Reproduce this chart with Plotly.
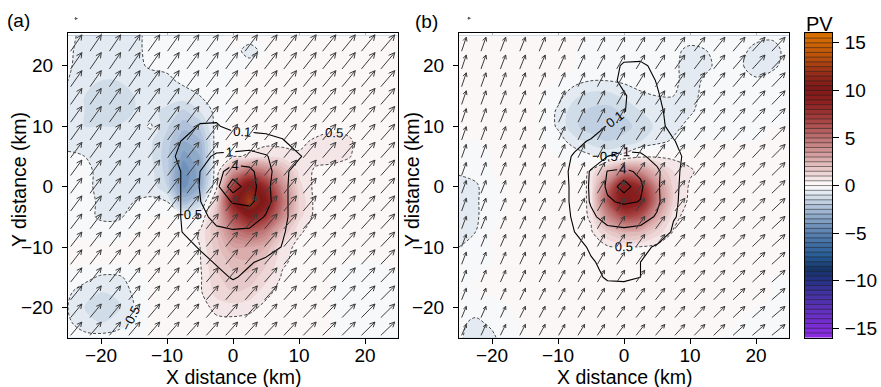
import numpy as np
import plotly.graph_objects as go
import plotly.figure_factory as ff

# ---------------- data ----------------
# PV grid (2.5 km spacing), rows listed from y = 25 (top) down to y = -25
PV_X = [-25.0, -22.5, -20.0, -17.5, -15.0, -12.5, -10.0, -7.5, -5.0, -2.5, 0.0,
        2.5, 5.0, 7.5, 10.0, 12.5, 15.0, 17.5, 20.0, 22.5, 25.0]
PV_Y_TOP_DOWN = [25.0, 22.5, 20.0, 17.5, 15.0, 12.5, 10.0, 7.5, 5.0, 2.5, 0.0,
                 -2.5, -5.0, -7.5, -10.0, -12.5, -15.0, -17.5, -20.0, -22.5, -25.0]

PV_A = [
    [-0.4, -0.6, -0.7, -0.7, -0.6, -0.4, -0.4, -0.3, -0.2, -0.1, 0.1, 0.2, 0.1, 0.1, 0.2, 0.2, 0.2, 0.2, 0.2, 0.2, 0.2],
    [-0.4, -0.7, -0.8, -0.8, -0.6, -0.4, -0.4, -0.3, -0.2, -0.1, 0.0, -1.0, 0.0, 0.1, 0.2, 0.2, 0.2, 0.2, 0.2, 0.2, 0.2],
    [-0.4, -0.8, -0.9, -0.9, -0.7, -0.4, -0.4, -0.3, -0.2, -0.1, 0.0, 0.0, 0.1, 0.1, 0.2, 0.2, 0.2, 0.2, 0.2, 0.2, 0.2],
    [-0.5, -0.9, -1.0, -1.0, -0.9, -0.8, -0.6, -0.4, -0.3, -0.1, 0.0, 0.1, 0.1, 0.1, 0.2, 0.2, 0.2, 0.2, 0.2, 0.2, 0.2],
    [-0.6, -1.0, -1.1, -1.1, -1.0, -0.9, -0.8, -0.7, -0.5, -0.2, 0.0, 0.1, 0.1, 0.1, 0.2, 0.2, 0.2, 0.2, 0.2, 0.2, 0.2],
    [-0.7, -1.0, -1.1, -1.1, -1.0, -0.9, -1.1, -1.6, -1.0, -0.3, 0.0, 0.1, 0.1, 0.1, 0.2, 0.2, 0.2, 0.2, 0.2, 0.2, 0.2],
    [-0.7, -1.0, -1.0, -1.0, -0.9, -0.4, -1.4, -2.3, -1.8, -0.2, 0.1, 0.1, 0.1, 0.1, 0.2, 0.2, 0.3, 0.3, 0.2, 0.2, 0.2],
    [-0.7, -0.8, -0.8, -0.8, -0.8, -0.9, -1.7, -3.0, -2.6, -0.1, 0.1, 0.2, 0.3, 0.3, 0.35, 0.6, 0.8, 0.6, 0.2, 0.2, 0.2],
    [-0.4, -0.5, -0.7, -0.8, -0.8, -0.9, -1.8, -3.8, -3.0, 0.0, 0.4, 0.6, 0.9, 0.8, 0.6, 0.7, 0.7, 0.55, 0.2, 0.2, 0.2],
    [-0.2, -0.3, -0.7, -0.8, -0.7, -0.8, -1.7, -4.5, -3.2, 0.0, 3.5, 5.5, 4.5, 2.5, 0.9, 0.4, 0.3, 0.2, 0.2, 0.2, 0.2],
    [-0.2, -0.3, -0.7, -0.8, -0.6, -0.7, -1.5, -4.2, -3.0, 0.3, 7.0, 10.5, 8.0, 4.0, 1.2, 0.3, 0.2, 0.2, 0.2, 0.2, 0.2],
    [-0.2, -0.3, -0.6, -0.7, -0.5, -0.4, -0.5, -2.5, -1.5, 1.5, 9.0, 12.5, 9.5, 5.0, 1.5, 0.3, 0.2, 0.2, 0.2, 0.2, 0.2],
    [-0.2, -0.3, -0.6, -0.6, -0.3, 0.0, 0.0, -0.3, -0.1, 2.0, 6.5, 9.0, 7.5, 4.0, 1.2, 0.3, 0.2, 0.2, 0.2, 0.2, 0.2],
    [-0.1, -0.1, -0.2, -0.2, 0.0, 0.1, 0.1, 0.1, 0.6, 2.0, 4.5, 5.5, 4.5, 2.0, 0.6, 0.2, 0.2, 0.2, 0.2, 0.2, 0.2],
    [0.1, 0.1, 0.1, 0.1, 0.1, 0.1, 0.1, 0.1, 0.5, 1.8, 3.0, 3.0, 2.5, 0.8, 0.3, 0.2, 0.1, 0.1, 0.1, 0.1, 0.1],
    [0.1, 0.1, 0.1, 0.1, 0.1, 0.1, 0.1, 0.1, 0.45, 1.6, 2.2, 2.4, 1.6, 0.6, 0.3, 0.1, 0.1, 0.0, 0.0, 0.0, 0.1],
    [-0.2, -0.3, -0.6, -0.6, -0.3, 0.1, 0.1, 0.1, 0.4, 1.4, 1.8, 1.8, 1.2, 0.4, 0.2, 0.1, 0.0, 0.0, 0.0, 0.0, 0.0],
    [-0.4, -0.8, -1.0, -0.9, -0.4, 0.1, 0.1, 0.1, 0.4, 1.2, 1.5, 1.3, 0.7, 0.2, 0.1, 0.1, 0.0, 0.0, 0.0, 0.0, 0.0],
    [-0.5, -1.0, -1.2, -1.1, -0.5, 0.1, 0.1, 0.1, 0.2, 0.7, 0.8, 0.7, 0.3, 0.1, 0.1, 0.1, 0.0, 0.0, 0.0, 0.0, 0.0],
    [-0.4, -0.8, -1.0, -0.8, -0.4, 0.1, 0.1, 0.1, 0.1, 0.3, 0.3, 0.2, 0.1, 0.1, 0.1, 0.1, 0.0, 0.0, 0.0, 0.0, 0.0],
    [-0.2, -0.3, -0.3, -0.2, -0.2, 0.1, 0.1, 0.1, 0.1, 0.1, 0.1, 0.1, 0.1, 0.1, 0.1, 0.1, 0.0, 0.0, 0.0, 0.0, 0.0],
]

PV_B = [
    [0.1, 0.1, 0.1, 0.1, 0.1, 0.1, 0.1, 0.1, 0.0, 0.0, 0.0, 0.0, -0.1, -0.2, -0.3, -0.3, -0.2, -0.2, -0.3, -0.4, -0.3],
    [0.1, 0.1, 0.1, 0.1, 0.1, 0.1, 0.1, 0.0, 0.0, -0.1, 0.0, 0.0, -0.1, -0.4, -0.6, -0.5, -0.3, -0.3, -0.7, -0.7, -0.3],
    [0.1, 0.1, 0.1, 0.1, 0.1, 0.1, 0.1, 0.0, -0.1, -0.2, -0.1, -0.1, -0.2, -0.4, -0.7, -0.6, -0.3, -0.4, -0.8, -0.6, -0.3],
    [0.1, 0.1, 0.1, 0.1, 0.1, 0.1, 0.0, -0.3, -0.5, -0.5, -0.4, -0.3, -0.3, -0.4, -0.7, -0.4, -0.2, -0.3, -0.4, -0.3, -0.2],
    [0.1, 0.1, 0.1, 0.1, 0.1, 0.0, -0.3, -0.9, -1.2, -1.2, -0.9, -0.6, -0.5, -0.5, -0.7, -0.3, -0.2, -0.2, -0.2, -0.1, -0.1],
    [0.1, 0.1, 0.1, 0.1, 0.1, 0.0, -0.6, -1.3, -1.6, -1.7, -1.4, -1.0, -0.7, -0.6, -0.6, -0.2, -0.1, -0.1, -0.1, 0.0, 0.0],
    [0.1, 0.1, 0.1, 0.1, 0.1, 0.0, -0.6, -1.4, -1.8, -1.9, -1.7, -1.3, -0.9, -0.7, -0.3, -0.1, 0.0, 0.0, 0.0, 0.0, 0.0],
    [0.0, 0.0, 0.1, 0.1, 0.1, 0.0, -0.2, -0.8, -1.2, -1.5, -1.3, -1.0, -0.7, -0.4, -0.2, 0.0, 0.0, 0.0, 0.0, 0.1, 0.1],
    [-0.2, -0.1, 0.0, 0.1, 0.1, 0.1, 0.0, -0.1, -0.4, -0.6, -0.3, 0.3, 0.4, 0.35, 0.25, 0.1, 0.1, 0.1, 0.1, 0.1, 0.1],
    [-0.4, -0.3, 0.0, 0.1, 0.1, 0.1, 0.1, 0.1, 0.6, 2.5, 4.5, 4.0, 2.2, 1.0, 0.6, 0.2, 0.1, 0.1, 0.1, 0.1, 0.1],
    [-0.8, -0.6, -0.1, 0.1, 0.1, 0.1, 0.1, 0.1, 0.65, 5.0, 9.5, 8.0, 4.0, 1.3, 0.4, 0.2, 0.1, 0.1, 0.1, 0.1, 0.1],
    [-0.9, -0.6, -0.1, 0.1, 0.1, 0.1, 0.1, 0.1, 0.65, 6.0, 10.0, 9.0, 4.5, 1.3, 0.3, 0.1, 0.1, 0.1, 0.1, 0.1, 0.1],
    [-0.9, -0.6, -0.1, 0.1, 0.1, 0.1, 0.1, 0.1, 0.6, 4.0, 6.5, 6.0, 3.0, 0.7, 0.2, 0.1, 0.1, 0.1, 0.1, 0.1, 0.1],
    [-0.8, -0.5, 0.0, 0.1, 0.1, 0.1, 0.1, 0.1, 0.4, 1.6, 2.6, 2.4, 1.3, 0.45, 0.1, 0.1, 0.1, 0.1, 0.1, 0.1, 0.1],
    [-0.5, -0.2, 0.0, 0.1, 0.1, 0.1, 0.1, 0.1, 0.2, 0.4, 0.45, 0.45, 0.3, 0.2, 0.1, 0.1, 0.1, 0.1, 0.1, 0.1, 0.1],
    [-0.3, -0.1, 0.0, 0.1, 0.1, 0.1, 0.1, 0.1, 0.1, 0.2, 0.2, 0.2, 0.2, 0.1, 0.1, 0.1, 0.1, 0.1, 0.1, 0.1, 0.1],
    [0.0, 0.0, 0.1, 0.1, 0.1, 0.1, 0.1, 0.1, 0.1, 0.1, 0.1, 0.1, 0.1, 0.1, 0.1, 0.1, 0.1, 0.1, 0.1, 0.0, 0.0],
    [0.0, 0.0, 0.1, 0.1, 0.1, 0.1, 0.1, 0.1, 0.1, 0.1, 0.1, 0.1, 0.1, 0.1, 0.1, 0.1, 0.1, 0.1, 0.1, 0.0, 0.0],
    [-0.2, -0.3, -0.2, 0.0, 0.1, 0.1, 0.1, 0.1, 0.1, 0.1, 0.1, 0.1, 0.1, 0.1, 0.1, 0.1, 0.1, 0.1, 0.0, 0.0, 0.0],
    [-0.4, -0.6, -0.4, -0.1, 0.1, 0.1, 0.1, 0.1, 0.1, 0.1, 0.1, 0.1, 0.1, 0.1, 0.1, 0.1, 0.1, 0.0, 0.0, 0.0, 0.0],
    [-0.4, -0.8, -0.6, -0.2, 0.0, 0.1, 0.1, 0.1, 0.1, 0.1, 0.1, 0.1, 0.1, 0.1, 0.1, 0.1, 0.0, 0.0, 0.0, 0.0, 0.0],
]

# Second field (solid contours), sub-grid, rows from y = 22.5 down to y = -20
W_X = [-12.5, -10.0, -7.5, -5.0, -2.5, 0.0, 2.5, 5.0, 7.5, 10.0, 12.5]
W_Y_TOP_DOWN = [22.5, 20.0, 17.5, 15.0, 12.5, 10.0, 7.5, 5.0, 2.5, 0.0,
                -2.5, -5.0, -7.5, -10.0, -12.5, -15.0, -17.5, -20.0]

W_A = [
    [0, 0, 0, 0, 0, 0, 0, 0, 0, 0, 0],
    [0, 0, 0, 0, 0, 0, 0, 0, 0, 0, 0],
    [0, 0, 0, 0, 0, 0, 0, 0, 0, 0, 0],
    [0, 0, 0, 0, 0, 0, 0, 0, 0, 0, 0],
    [0, 0, 0, 0, 0, 0, 0, 0, 0, 0, 0],
    [0, 0, 0, 0.12, 0.13, 0.0, 0, 0, 0, 0, 0],
    [0, 0, 0.12, 0.2, 0.3, 0.3, 0.25, 0.2, 0.12, 0.0, 0],
    [0, 0.05, 0.15, 0.6, 1.2, 1.3, 1.5, 1.1, 0.3, 0.12, 0],
    [0, 0, 0.12, 1.0, 2.5, 6.0, 5.0, 1.5, 0.15, 0.02, 0],
    [0, 0, 0.12, 1.05, 2.1, 14.0, 6.0, 1.3, 0.15, 0, 0],
    [0, 0, 0.12, 0.95, 2.0, 4.3, 5.0, 1.4, 0.15, 0, 0],
    [0, 0, 0.12, 0.7, 1.3, 1.5, 1.6, 0.9, 0.15, 0, 0],
    [0, 0, 0.11, 0.4, 0.8, 0.9, 0.8, 0.4, 0.12, 0, 0],
    [0, 0, 0.02, 0.12, 0.3, 0.3, 0.3, 0.2, 0.09, 0, 0],
    [0, 0, 0, 0.03, 0.12, 0.2, 0.12, 0.05, 0, 0, 0],
    [0, 0, 0, 0, 0.03, 0.12, 0.05, 0, 0, 0, 0],
    [0, 0, 0, 0, 0, 0, 0, 0, 0, 0, 0],
    [0, 0, 0, 0, 0, 0, 0, 0, 0, 0, 0],
]

W_B = [
    [0, 0, 0, 0, 0, 0, 0, 0, 0, 0, 0],
    [0, 0, 0, 0, 0.0, 0.13, 0.14, 0.05, 0, 0, 0],
    [0, 0, 0, 0, 0.03, 0.15, 0.2, 0.09, 0, 0, 0],
    [0, 0, 0, 0, 0.0, 0.08, 0.2, 0.12, 0, 0, 0],
    [0, 0, 0, 0, 0.0, 0.09, 0.2, 0.15, 0.02, 0, 0],
    [0, 0, 0, 0.0, 0.11, 0.2, 0.25, 0.15, 0.05, 0, 0],
    [0, 0, 0.05, 0.12, 0.3, 0.35, 0.35, 0.25, 0.11, 0.02, 0],
    [0, 0.02, 0.12, 0.4, 1.0, 1.3, 1.2, 0.6, 0.15, 0.05, 0],
    [0, 0.02, 0.15, 1.1, 4.1, 4.6, 3.5, 1.2, 0.15, 0.02, 0],
    [0, 0, 0.15, 1.15, 4.5, 14.0, 4.5, 1.15, 0.15, 0, 0],
    [0, 0, 0.15, 1.1, 3.6, 4.5, 3.9, 1.2, 0.14, 0, 0],
    [0, 0, 0.13, 0.8, 1.4, 1.5, 1.4, 0.9, 0.12, 0, 0],
    [0, 0, 0.1, 0.35, 0.7, 0.8, 0.7, 0.35, 0.05, 0, 0],
    [0, 0, 0.02, 0.13, 0.3, 0.3, 0.2, 0.05, 0, 0, 0],
    [0, 0, 0, 0.08, 0.15, 0.2, 0.1, 0.02, 0, 0, 0],
    [0, 0, 0, 0.02, 0.13, 0.14, 0.1, 0, 0, 0, 0],
    [0, 0, 0, 0, 0, 0, 0, 0, 0, 0, 0],
    [0, 0, 0, 0, 0, 0, 0, 0, 0, 0, 0],
]

W_LEVELS = [0.1, 1, 4]
W_INNER_LEVEL = 10
PV_DASH_LEVELS = (-0.5, 0.5)

# Wind (m/s): u varies across columns (west->east), v across rows (south->north)
U_A_BY_COL = [6.8, 6.8, 6.8, 6.8, 7.0, 7.0, 7.2, 7.2, 7.2, 7.4, 7.6, 7.6, 7.8, 8.0, 8.0, 8.2, 8.4]
V_A_BY_ROW = [8.8, 9.0, 9.2, 9.4, 9.6, 9.6, 9.8, 10.0, 10.0, 10.2, 10.2, 10.4, 10.4, 10.6, 10.6, 10.8, 10.8]
U_B_BY_COL = [2.8, 3.0, 3.2, 3.4, 3.6, 3.8, 4.0, 4.4, 4.8, 5.2, 5.6, 6.0, 6.4, 6.8, 7.2, 7.6, 8.0]
V_B_BY_ROW = [7.2, 7.4, 7.6, 7.8, 8.0, 8.0, 8.2, 8.4, 8.4, 8.6, 8.8, 8.8, 9.0, 9.0, 9.2, 9.2, 9.2]

AXIS_TICKS = [-20, -10, 0, 10, 20]
CBAR_TICKS = [-15, -10, -5, 0, 5, 10, 15]
CBAR_RANGE = (-16, 16)
PV_STEP = 0.5

# ---------------- styling ----------------
FONT = "Liberation Sans"
W, H = 881, 387
KM_PER_MS = 0.25
ARROW_POS = np.linspace(-24.6, 22.4, 17)
TICK_FONT = dict(family=FONT, size=19, color="black")
TITLE_FONT = dict(family=FONT, size=19.5, color="black")
LABEL_FONT = dict(family=FONT, size=13, color="black")

COLOR_STOPS = [
    (-16, "rgb(138,43,226)"), (-12, "rgb(75,50,170)"), (-10, "rgb(35,50,130)"),
    (-9, "rgb(22,52,102)"), (-7.5, "rgb(38,92,150)"), (-5, "rgb(92,130,176)"),
    (-3, "rgb(152,176,206)"), (-1, "rgb(218,227,237)"), (0, "rgb(255,255,255)"),
    (1, "rgb(241,222,222)"), (3, "rgb(216,166,166)"), (5, "rgb(190,116,116)"),
    (7, "rgb(166,66,66)"), (9, "rgb(140,30,30)"), (10.5, "rgb(125,25,25)"),
    (12, "rgb(150,45,25)"), (14, "rgb(190,85,10)"), (16, "rgb(215,110,0)"),
]
lo, hi = CBAR_RANGE
CS = [[(z - lo) / (hi - lo), c] for z, c in COLOR_STOPS]

fill_contours = dict(start=lo + PV_STEP, end=hi - PV_STEP, size=PV_STEP,
                     coloring="fill", showlines=False)

pv_y = PV_Y_TOP_DOWN[::-1]
w_y = W_Y_TOP_DOWN[::-1]

px2x = lambda p: p / W
px2y = lambda p: 1 - p / H
PLOT_TOP, PLOT_BOT = 32.5, 338.5
YDOM = [px2y(PLOT_BOT), px2y(PLOT_TOP)]
XDOM_A = [px2x(68), px2x(398)]
XDOM_B = [px2x(459), px2x(789)]
XDOM_C = [px2x(805), px2x(832)]

fig = go.Figure()


def add_panel(pv, w, u_col, v_row, xa, ya):
    z_pv = pv[::-1]
    z_w = w[::-1]
    fig.add_trace(go.Contour(x=PV_X, y=pv_y, z=z_pv, xaxis=xa, yaxis=ya,
                             autocontour=False, contours=fill_contours,
                             colorscale=CS, zmin=lo, zmax=hi, showscale=False,
                             line=dict(width=0), hoverinfo="skip"))
    # arrows
    gx, gy = np.meshgrid(ARROW_POS, ARROW_POS)
    U = np.tile(np.array(u_col) * KM_PER_MS, (len(ARROW_POS), 1))
    V = np.tile((np.array(v_row) * KM_PER_MS)[:, None], (1, len(ARROW_POS)))
    q = ff.create_quiver(gx.flatten(), gy.flatten(), U.flatten(), V.flatten(),
                         scale=1, arrow_scale=0.3, angle=np.pi / 7)
    qt = q.data[0]
    fig.add_trace(go.Scatter(x=qt.x, y=qt.y, mode="lines", xaxis=xa, yaxis=ya,
                             line=dict(color="rgb(60,60,60)", width=1),
                             hoverinfo="skip", showlegend=False))
    # dashed PV contours
    fig.add_trace(go.Contour(x=PV_X, y=pv_y, z=z_pv, xaxis=xa, yaxis=ya,
                             autocontour=False,
                             contours=dict(start=PV_DASH_LEVELS[0], end=PV_DASH_LEVELS[1],
                                           size=PV_DASH_LEVELS[1] - PV_DASH_LEVELS[0],
                                           coloring="none", showlabels=True,
                                           labelfont=LABEL_FONT),
                             line=dict(color="rgb(30,30,30)", width=0.8, dash="3px,2px"),
                             showscale=False, hoverinfo="skip"))
    # solid contours
    for lev in W_LEVELS:
        fig.add_trace(go.Contour(x=W_X, y=w_y, z=z_w, xaxis=xa, yaxis=ya,
                                 autocontour=False,
                                 contours=dict(start=lev, end=lev, size=1, coloring="none",
                                               showlabels=True, labelfont=LABEL_FONT),
                                 line=dict(color="black", width=1.1, smoothing=0),
                                 showscale=False, hoverinfo="skip"))
    fig.add_trace(go.Contour(x=W_X, y=w_y, z=z_w, xaxis=xa, yaxis=ya,
                             autocontour=False,
                             contours=dict(start=W_INNER_LEVEL, end=W_INNER_LEVEL, size=1,
                                           coloring="none", showlabels=False),
                             line=dict(color="black", width=1.1, smoothing=0),
                             showscale=False, hoverinfo="skip"))


add_panel(PV_A, W_A, U_A_BY_COL, V_A_BY_ROW, "x", "y")
add_panel(PV_B, W_B, U_B_BY_COL, V_B_BY_ROW, "x2", "y2")

# colour bar as its own small subplot
cb_y = np.arange(lo, hi + PV_STEP / 2, PV_STEP)
fig.add_trace(go.Contour(x=[0, 1], y=cb_y, z=[[v, v] for v in cb_y], xaxis="x3", yaxis="y3",
                         autocontour=False,
                         contours=dict(start=lo + PV_STEP, end=hi - PV_STEP, size=PV_STEP,
                                       coloring="fill", showlines=True),
                         colorscale=CS, zmin=lo, zmax=hi, showscale=False,
                         line=dict(color="rgba(30,30,30,0.75)", width=0.7),
                         hoverinfo="skip"))

axis_common = dict(showline=True, mirror=True, linecolor="black", linewidth=1,
                   ticks="outside", ticklen=5, tickcolor="black", tickwidth=1,
                   tickfont=TICK_FONT,
                   showgrid=True, gridcolor="rgb(185,185,185)", griddash="dot", gridwidth=1,
                   zeroline=False, layer="above traces", tickvals=AXIS_TICKS)

fig.update_layout(
    width=W, height=H, autosize=False,
    margin=dict(l=0, r=0, t=0, b=0),
    paper_bgcolor="white", plot_bgcolor="white", showlegend=False,
    font=dict(family=FONT, size=18, color="black"),
    xaxis=dict(domain=XDOM_A, anchor="y", range=[-25, 25], ticklabelstandoff=-5, **axis_common),
    yaxis=dict(domain=YDOM, anchor="x", range=[-25, 25.35], ticklabelstandoff=5, **axis_common),
    xaxis2=dict(domain=XDOM_B, anchor="y2", range=[-25, 25], ticklabelstandoff=-5, **axis_common),
    yaxis2=dict(domain=YDOM, anchor="x2", range=[-25, 25.35], ticklabelstandoff=5, **axis_common),
    xaxis3=dict(domain=XDOM_C, anchor="y3", range=[0, 1], showline=True, mirror=True,
                linecolor="black", linewidth=1, showticklabels=False, ticks="",
                showgrid=False, zeroline=False, layer="above traces"),
    yaxis3=dict(domain=YDOM, anchor="x3", side="right", range=list(CBAR_RANGE),
                tickvals=CBAR_TICKS, showline=True, mirror=True, linecolor="black",
                linewidth=1, ticks="outside", ticklen=6, tickcolor="black",
                tickfont=TICK_FONT, ticklabelstandoff=2,
                showgrid=False, zeroline=False, layer="above traces"),
)

ann = []
for xc in [(68 + 398) / 2, (459 + 789) / 2]:
    ann.append(dict(x=px2x(xc), y=px2y(377.5), xref="paper", yref="paper", text="X distance (km)",
                    showarrow=False, font=TITLE_FONT, xanchor="center", yanchor="middle"))
for xt in [19, 412]:
    ann.append(dict(x=px2x(xt), y=px2y(180), xref="paper", yref="paper", text="Y distance (km)",
                    textangle=-90, showarrow=False, font=TITLE_FONT,
                    xanchor="center", yanchor="middle"))
ann.append(dict(x=px2x(18.5), y=px2y(19.5), xref="paper", yref="paper", text="(a)", showarrow=False,
                font=TICK_FONT, xanchor="center", yanchor="middle"))
ann.append(dict(x=px2x(426.5), y=px2y(20.5), xref="paper", yref="paper", text="(b)", showarrow=False,
                font=TICK_FONT, xanchor="center", yanchor="middle"))
ann.append(dict(x=px2x(819), y=px2y(23), xref="paper", yref="paper", text="PV", showarrow=False,
                font=dict(family=FONT, size=20, color="black"), xanchor="center", yanchor="middle"))
# tiny reference arrows above the panels
for xh, yh in [(78, 17.7), (471, 17.3)]:
    ann.append(dict(x=px2x(xh), y=px2y(yh), xref="paper", yref="paper", text="", showarrow=True,
                    ax=-5, ay=0, arrowhead=2, arrowsize=0.6, arrowwidth=1, arrowcolor="rgb(90,90,90)"))
fig.update_layout(annotations=ann)

fig.write_html("out.html", config={"displayModeBar": False},
               post_script="document.body.style.margin='0px';")
